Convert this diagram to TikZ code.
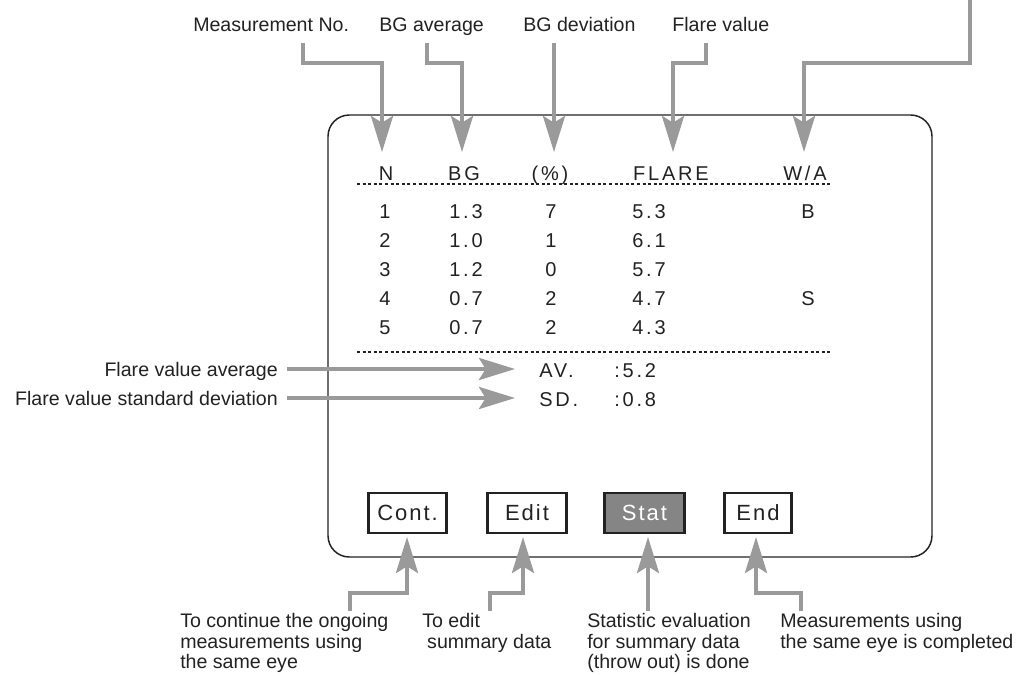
\documentclass[tikz,border=0pt]{standalone}
\usepackage{fontspec}
\setmainfont{Liberation Sans}
\newfontfamily\scrfont[LetterSpace=14]{Liberation Sans}
\newfontfamily\btnfont[LetterSpace=9]{Liberation Sans}
\usetikzlibrary{arrows.meta}
\definecolor{arrgray}{HTML}{9A9A9A}
\definecolor{btngray}{HTML}{858585}
\definecolor{ink}{HTML}{222222}
\tikzset{
  lbl/.style={font=\fontsize{14.7}{15.4}\selectfont, inner sep=0pt, text=ink},
  scrtxt/.style={font=\scrfont\fontsize{15}{15}\selectfont, inner sep=0pt, anchor=base, text=ink},
  scrleft/.style={scrtxt, anchor=base west},
  arr/.style={draw=arrgray, line width=3pt, -{Stealth[length=27pt,width=16.5pt,inset=5pt]}},
  dotrule/.style={line width=2.2pt, dash pattern=on 2.2pt off 2pt, draw=ink},
  btn/.style={draw=ink, line width=2.2pt, minimum height=30pt, inner sep=0pt, text=ink,
    font=\btnfont\fontsize{16.5}{16.5}\selectfont},
}
\begin{document}
\begin{tikzpicture}[x=0.75pt,y=-0.75pt]
\useasboundingbox (0,0) rectangle (1020,675);

% screen frame
\node (frame) [draw=ink, line width=1.1pt, rounded corners=16pt, minimum width=453pt,
  minimum height=331.5pt, inner sep=0pt] at (630,336) {};

% dotted rules
\draw[dotrule] (357,184) -- (832,184);
\draw[dotrule] (357,352) -- (832,352);

% header
\node[scrtxt] (hN) at (386,180) {N};
\node[scrtxt] (hBG) at (464,180) {BG};
\node[scrtxt] (hP) at (550,180) {(\%)};
\node[scrtxt] (hF) at (671,180) {FLARE};
\node[scrtxt] (hW) at (805,180) {W/A};

% rows
\foreach \i/\n/\bg/\p/\f [count=\k] in {218/1/1.3/7/5.3, 247/2/1.0/1/6.1, 276/3/1.2/0/5.7, 305/4/0.7/2/4.7, 334/5/0.7/2/4.3}{
  \node[scrtxt] (n\k) at (385,\i) {\n};
  \node[scrtxt] (b\k) at (466,\i) {\bg};
  \node[scrtxt] (p\k) at (551,\i) {\p};
  \node[scrleft] (f\k) at (632,\i) {\f};
}
\node[scrtxt] (w1) at (808,218) {B};
\node[scrtxt] (w4) at (808,305) {S};

\node[scrleft] (av) at (539,377) {AV.};
\node[scrleft] (avv) at (614,377) {:5.2};
\node[scrleft] (sd) at (539,406) {SD.};
\node[scrleft] (sdv) at (614,406) {:0.8};

% buttons
\node[btn, minimum width=58.5pt] (bCont) at (407.5,513) {Cont.};
\node[btn, minimum width=59.25pt] (bEdit) at (527,513) {Edit};
\node[btn, minimum width=60pt, fill=btngray, text=white] (bStat) at (644.5,513) {Stat};
\node[btn, minimum width=50.25pt] (bEnd) at (758,513) {End};

% top labels
\node[lbl, anchor=base west] (lMeas) at (193,31) {Measurement No.};
\node[lbl, anchor=base west] (lBGa) at (379,31) {BG average};
\node[lbl, anchor=base west] (lBGd) at (523,31) {BG deviation};
\node[lbl, anchor=base west] (lFl) at (672,31) {Flare value};

% left labels
\node[lbl, anchor=base east] (lAv) at (278,376) {Flare value average};
\node[lbl, anchor=base east] (lSd) at (278,405) {Flare value standard deviation};

% bottom labels
\node[lbl, anchor=north west, align=left] (lCont) at (180,613) {To continue the ongoing\\measurements using\\the same eye};
\node[lbl, anchor=north west, align=left] (lEdit) at (422,613) {To edit\\\hspace*{3.7pt}summary data};
\node[lbl, anchor=north west, align=left] (lStat) at (587,613) {Statistic evaluation\\for summary data\\(throw out) is done};
\node[lbl, anchor=north west, align=left] (lEnd) at (780,613) {Measurements using\\the same eye is completed};

% arrow coordinates
\coordinate (sMeas) at (303,43);  \coordinate (tMeas) at (382,152);
\coordinate (sBGa) at (427,43);   \coordinate (tBGa) at (462,152);
\coordinate (sBGd) at (554,43);   \coordinate (tBGd) at (554,152);
\coordinate (sFl) at (706,43);    \coordinate (tFl) at (673,152);
\coordinate (sWA) at (970,0);     \coordinate (tWA) at (804,152);
\coordinate (kTop) at (0,63);

\draw[arr] (sMeas) -- (sMeas |- kTop) -| (tMeas);
\draw[arr] (sBGa) -- (sBGa |- kTop) -| (tBGa);
\draw[arr] (sBGd) -- (tBGd);
\draw[arr] (sFl) -- (sFl |- kTop) -| (tFl);
\draw[arr] (sWA) -- (sWA |- kTop) -| (tWA);

\coordinate (sAv) at (287,369); \coordinate (tAv) at (515,369);
\coordinate (sSd) at (287,398); \coordinate (tSd) at (515,398);
\draw[arr] (sAv) -- (tAv);
\draw[arr] (sSd) -- (tSd);

\coordinate (kBot) at (0,593);
\coordinate (sCont) at (350,611); \coordinate (tCont) at (407,537);
\coordinate (sEdit) at (490,611); \coordinate (tEdit) at (523,537);
\coordinate (sStat) at (648,611); \coordinate (tStat) at (648,537);
\coordinate (sEnd) at (801,611);  \coordinate (tEnd) at (756,537);
\draw[arr] (sCont) -- (sCont |- kBot) -| (tCont);
\draw[arr] (sEdit) -- (sEdit |- kBot) -| (tEdit);
\draw[arr] (sStat) -- (tStat);
\draw[arr] (sEnd) -- (sEnd |- kBot) -| (tEnd);
\end{tikzpicture}
\end{document}
